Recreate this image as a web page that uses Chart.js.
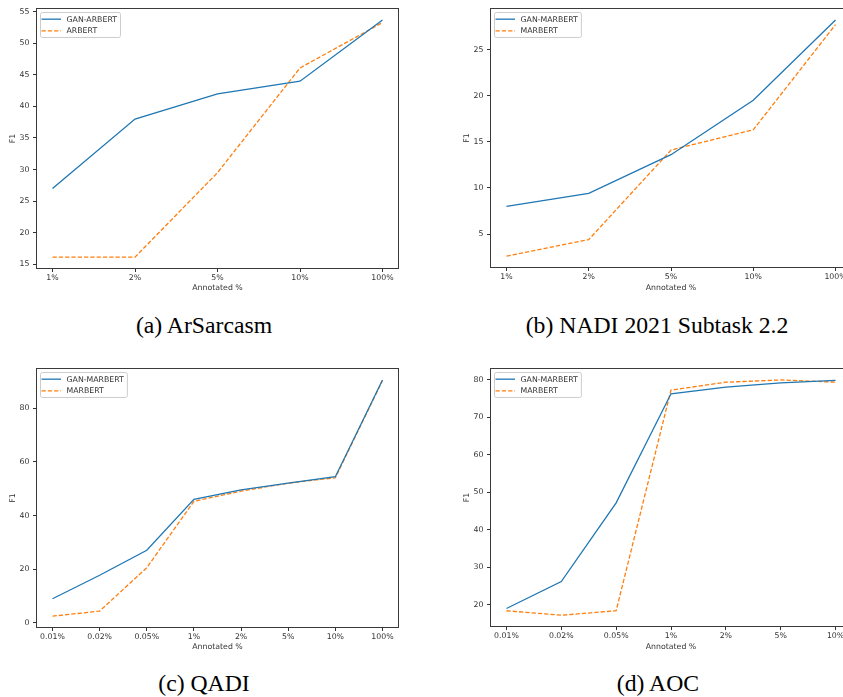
<!DOCTYPE html>
<html><head><meta charset="utf-8">
<script src="https://cdn.jsdelivr.net/npm/chart.js@4.4.0/dist/chart.umd.min.js"></script>
<style>
html,body{margin:0;padding:0;background:#fff;width:843px;height:697px;overflow:hidden;position:relative}
canvas{position:absolute}
.cap{position:absolute;width:320px;text-align:center;font-family:"Liberation Serif","Times New Roman",serif;font-size:23px;line-height:23px;color:#000;transform:scaleX(1.03);white-space:nowrap}
</style></head><body>
<canvas id="ca" width="420" height="300" style="left:0;top:0"></canvas>
<canvas id="cb" width="460" height="300" style="left:420px;top:0"></canvas>
<canvas id="cc" width="420" height="300" style="left:0;top:360px"></canvas>
<canvas id="cd" width="460" height="300" style="left:420px;top:360px"></canvas>
<div class="cap" style="left:43.5px;top:314px">(a) ArSarcasm</div>
<div class="cap" style="left:496.5px;top:314px">(b) NADI 2021 Subtask 2.2</div>
<div class="cap" style="left:43.5px;top:672px">(c) QADI</div>
<div class="cap" style="left:497.5px;top:672px">(d) AOC</div>
<script>
// ---- data ----
const catsAB = ['1%','2%','5%','10%','100%'];
const catsC = ['0.01%','0.02%','0.05%','1%','2%','5%','10%','100%'];
const catsD = ['0.01%','0.02%','0.05%','1%','2%','5%','10%'];

const ganArbert = [27.0, 38.0, 42.0, 44.0, 53.7];
const arbert = [16.1, 16.1, 29.5, 46.1, 53.3];
const ganMarbertB = [8.0, 9.4, 13.6, 19.5, 28.2];
const marbertB = [2.6, 4.4, 14.1, 16.3, 27.7];
const ganMarbertC = [8.9, 17.7, 27.0, 46.0, 49.6, 52.1, 54.5, 90.6];
const marbertC = [2.4, 4.3, 20.5, 45.3, 49.1, 52.1, 54.1, 90.4];
const ganMarbertD = [19.0, 26.2, 47.2, 76.3, 78.1, 79.2, 79.9];
const marbertD = [18.4, 17.2, 18.4, 77.3, 79.4, 80.0, 79.4];

const yTicksA = [15,20,25,30,35,40,45,50,55];
const yTicksB = [5,10,15,20,25];
const yTicksC = [0,20,40,60,80];
const yTicksD = [20,30,40,50,60,70,80];

// ---- styles ----
const BLUE = '#1f77b4', ORANGE = '#ff7f0e';
const FONT = {family:'"DejaVu Sans"', size:7.8};
const TXT = '#333';

const framePlugin = {
  id:'frame',
  afterDraw(chart){
    const {ctx, chartArea:a} = chart;
    ctx.save();
    ctx.strokeStyle = '#3a3a3a'; ctx.lineWidth = 1;
    ctx.strokeRect(Math.round(a.left)+0.5, Math.round(a.top)+0.5, Math.round(a.right)-Math.round(a.left)-1, Math.round(a.bottom)-Math.round(a.top)-1);
    ctx.restore();
  }
};

const legendPlugin = {
  id:'mplLegend',
  afterDatasetsDraw(chart){
    const {ctx, chartArea:a} = chart;
    const ds = chart.data.datasets;
    ctx.save();
    ctx.font = FONT.size + 'px ' + FONT.family;
    const tw = Math.max(...ds.map(d=>ctx.measureText(d.label).width));
    const bx = a.left+4.5, by = a.top+4.3, bw = 26+tw+3.5, bh = 25;
    ctx.beginPath();
    if (ctx.roundRect) ctx.roundRect(bx,by,bw,bh,2); else ctx.rect(bx,by,bw,bh);
    ctx.fillStyle = 'rgba(255,255,255,0.8)'; ctx.fill();
    ctx.strokeStyle = '#cccccc'; ctx.lineWidth = 1; ctx.stroke();
    ds.forEach((d,i)=>{
      const y = by + 6.7 + i*11.7;
      ctx.beginPath();
      ctx.setLineDash(d.borderDash || []);
      ctx.strokeStyle = d.borderColor; ctx.lineWidth = d.borderWidth;
      ctx.moveTo(bx+1,y); ctx.lineTo(bx+20.5,y); ctx.stroke();
      ctx.setLineDash([]);
      ctx.fillStyle = TXT; ctx.textBaseline = 'middle'; ctx.textAlign = 'left';
      ctx.fillText(d.label, bx+26, y+0.5);
    });
    ctx.restore();
  }
};

function makeChart(id, cats, series, yTicks, geo){
  const all = series.flatMap(s=>s.values);
  const lo = Math.min(...all), hi = Math.max(...all), m = (hi-lo)*0.05;
  const xm = (cats.length-1)*0.05;
  new Chart(document.getElementById(id), {
    type:'line',
    data:{datasets: series.map(s=>({
      label:s.label,
      data:s.values.map((v,i)=>({x:i,y:v})),
      borderColor:s.color, backgroundColor:s.color,
      borderDash:s.dash, borderWidth:1.3,
      pointRadius:0, fill:false, tension:0
    }))},
    options:{
      responsive:false, animation:false, events:[],
      layout:{padding:{left:geo.padL, top:geo.padT, right:geo.padR, bottom:0}},
      plugins:{legend:{display:false}, tooltip:{enabled:false}},
      scales:{
        x:{
          type:'linear', bounds:'data', min:-xm, max:cats.length-1+xm,
          afterBuildTicks:s=>{ s.ticks = cats.map((c,i)=>({value:i})); },
          afterFit:s=>{ s.height = geo.xH; },
          ticks:{callback:(v,i)=>cats[i], font:FONT, color:TXT, padding:1.5, maxRotation:0, autoSkip:false},
          grid:{drawOnChartArea:false, tickLength:3, color:'#333', lineWidth:1},
          border:{display:false},
          title:{display:true, text:'Annotated %', font:FONT, color:TXT, padding:{top:0,bottom:geo.xTP}}
        },
        y:{
          type:'linear', bounds:'data', min:lo-m, max:hi+m,
          afterBuildTicks:s=>{ s.ticks = yTicks.map(v=>({value:v})); },
          afterFit:s=>{ s.width = geo.yW; },
          ticks:{callback:(v,i)=>String(yTicks[i]), font:FONT, color:TXT, padding:3.5, autoSkip:false},
          grid:{drawOnChartArea:false, tickLength:3, color:'#333', lineWidth:1},
          border:{display:false},
          title:{display:true, text:'F1', font:FONT, color:TXT, padding:{top:geo.yTP,bottom:0}}
        }
      }
    },
    plugins:[legendPlugin, framePlugin]
  });
}

makeChart('ca', catsAB, [
  {label:'GAN-ARBERT', values:ganArbert, color:BLUE, dash:[]},
  {label:'ARBERT', values:arbert, color:ORANGE, dash:[4.3,2]}
], yTicksA, {padL:0, padT:4, padR:21, yW:36, xH:31, xTP:7.3, yTP:8.3});

makeChart('cb', catsAB, [
  {label:'GAN-MARBERT', values:ganMarbertB, color:BLUE, dash:[]},
  {label:'MARBERT', values:marbertB, color:ORANGE, dash:[4.3,2]}
], yTicksB, {padL:0, padT:4, padR:28, yW:70, xH:32, xTP:7.3, yTP:42});

makeChart('cc', catsC, [
  {label:'GAN-MARBERT', values:ganMarbertC, color:BLUE, dash:[]},
  {label:'MARBERT', values:marbertC, color:ORANGE, dash:[4.3,2]}
], yTicksC, {padL:0, padT:3, padR:21, yW:36, xH:32, xTP:8, yTP:8.6});

makeChart('cd', catsD, [
  {label:'GAN-MARBERT', values:ganMarbertD, color:BLUE, dash:[]},
  {label:'MARBERT', values:marbertD, color:ORANGE, dash:[4.3,2]}
], yTicksD, {padL:0, padT:3, padR:28, yW:70, xH:33, xTP:8, yTP:42});
</script>
</body></html>
